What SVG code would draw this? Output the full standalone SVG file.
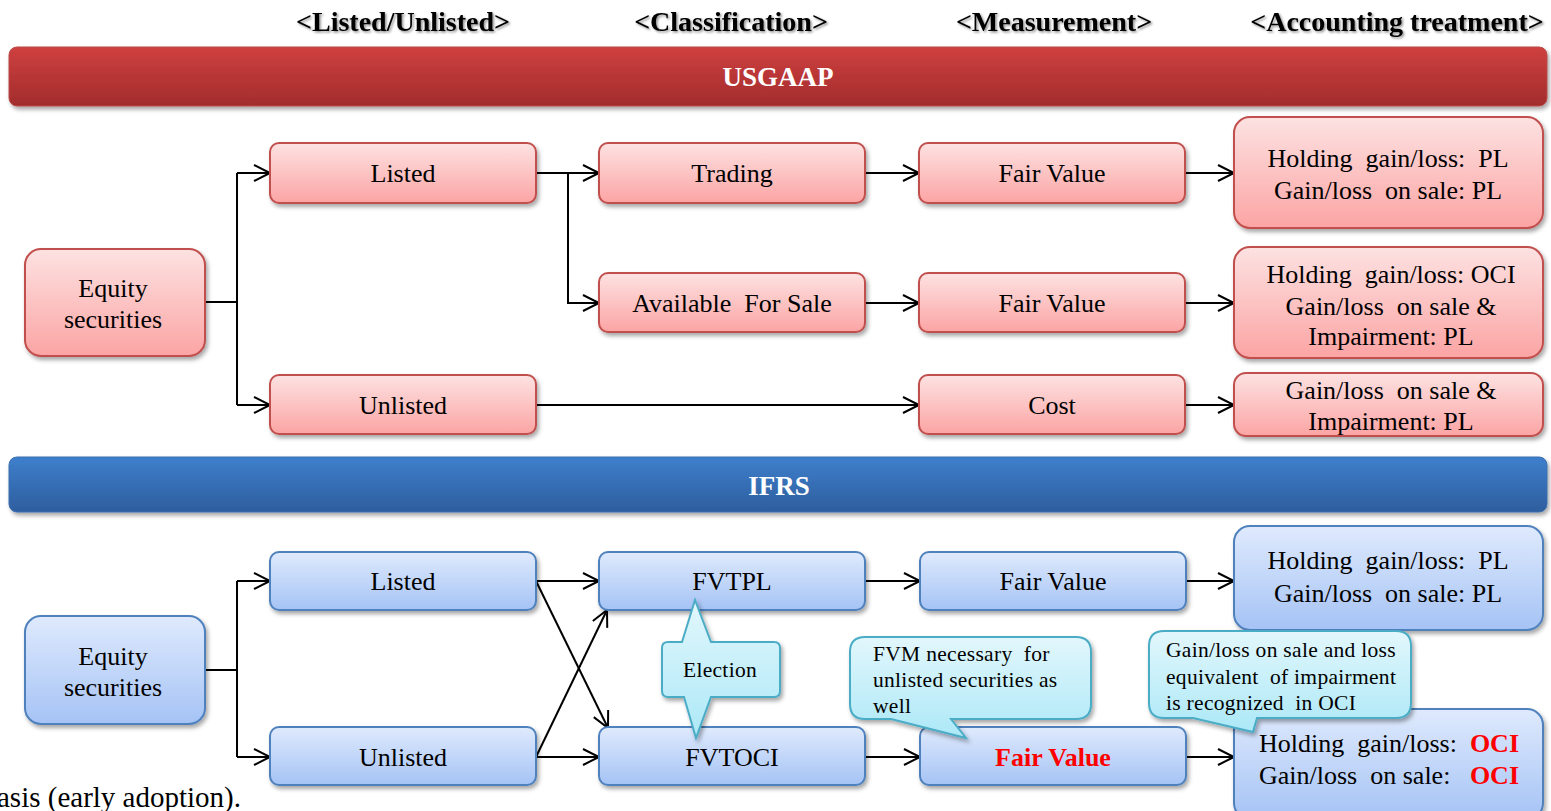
<svg xmlns="http://www.w3.org/2000/svg" width="1551" height="811" viewBox="0 0 1551 811">
<style>
text{font-family:"Liberation Serif","Times New Roman",serif;fill:#000}
.hdr{font-size:28px;font-weight:bold;text-anchor:middle}
.bar{font-size:27px;font-weight:bold;text-anchor:middle;fill:#fff}
.nt{font-size:26px;text-anchor:middle}
.ct{font-size:21.5px;letter-spacing:0.3px}
.red{fill:#ff0000;font-weight:bold}
.rn{fill:url(#gRed);stroke:#c0504d;stroke-width:2}
.bn{fill:url(#gBlue);stroke:#4f81bd;stroke-width:2}
.cl{fill:url(#gCyan);stroke:#4bacc6;stroke-width:2}
.ln{fill:none;stroke:#000;stroke-width:2;marker-end:url(#arr)}
.ln0{fill:none;stroke:#000;stroke-width:2}
</style>
<defs>
<linearGradient id="gRed" x1="0" y1="0" x2="0" y2="1"><stop offset="0" stop-color="#fde2e2"/><stop offset="1" stop-color="#fca4a4"/></linearGradient>
<linearGradient id="gBlue" x1="0" y1="0" x2="0" y2="1"><stop offset="0" stop-color="#dfeafd"/><stop offset="1" stop-color="#a5c3f5"/></linearGradient>
<linearGradient id="gCyan" x1="0" y1="0" x2="0" y2="1"><stop offset="0" stop-color="#e2f7fc"/><stop offset="1" stop-color="#ace8f7"/></linearGradient>
<linearGradient id="gRedBar" x1="0" y1="0" x2="0" y2="1"><stop offset="0" stop-color="#cf4040"/><stop offset="1" stop-color="#a22c2c"/></linearGradient>
<linearGradient id="gBlueBar" x1="0" y1="0" x2="0" y2="1"><stop offset="0" stop-color="#3e7fcc"/><stop offset="1" stop-color="#2e5e9e"/></linearGradient>
<filter id="sh" x="-10%" y="-20%" width="120%" height="150%"><feDropShadow dx="2" dy="3" stdDeviation="2" flood-color="#000" flood-opacity="0.35"/></filter>
<filter id="tsh" x="-10%" y="-30%" width="120%" height="160%"><feDropShadow dx="1.5" dy="1.5" stdDeviation="1.2" flood-color="#000" flood-opacity="0.45"/></filter>
<marker id="arr" markerUnits="userSpaceOnUse" markerWidth="20" markerHeight="20" refX="16" refY="8" orient="auto" overflow="visible"><path d="M0,0 L16,8 L0,16" fill="none" stroke="#000" stroke-width="2"/></marker>
</defs>

<g id="headers">
<text class="hdr" x="403" y="31" filter="url(#tsh)">&lt;Listed/Unlisted&gt;</text>
<text class="hdr" x="731" y="31" filter="url(#tsh)">&lt;Classification&gt;</text>
<text class="hdr" x="1054" y="31" filter="url(#tsh)">&lt;Measurement&gt;</text>
<text class="hdr" x="1397" y="31" filter="url(#tsh)">&lt;Accounting treatment&gt;</text>
</g>

<g id="bar-usgaap">
<rect x="9" y="47" width="1538" height="59" rx="8" fill="url(#gRedBar)" stroke="#b94a48" stroke-width="1" filter="url(#sh)"/>
<text class="bar" x="778" y="86">USGAAP</text>
</g>
<g id="bar-ifrs">
<rect x="9" y="457" width="1538" height="55" rx="8" fill="url(#gBlueBar)" stroke="#3a6fb0" stroke-width="1" filter="url(#sh)"/>
<text class="bar" x="779" y="495">IFRS</text>
</g>

<g id="connectors">
<path class="ln0" d="M205,302 H237 M237,173 V405"/>
<path class="ln" d="M237,173 H270"/>
<path class="ln" d="M237,405 H270"/>
<path class="ln" d="M536,173 H599"/>
<path class="ln" d="M568,173 V303 H599"/>
<path class="ln" d="M865,173 H919"/>
<path class="ln" d="M865,303 H919"/>
<path class="ln" d="M536,405 H919"/>
<path class="ln" d="M1185,173 H1234"/>
<path class="ln" d="M1185,303 H1234"/>
<path class="ln" d="M1185,405 H1234"/>

<path class="ln0" d="M205,670 H237 M237,581 V757"/>
<path class="ln" d="M237,581 H270"/>
<path class="ln" d="M237,757 H270"/>
<path class="ln" d="M536,581 H599"/>
<path class="ln" d="M536,757 H599"/>
<path class="ln" d="M536,581 L608,728"/>
<path class="ln" d="M536,757 L607,610"/>
<path class="ln" d="M865,581 H920"/>
<path class="ln" d="M865,757 H920"/>
<path class="ln" d="M1186,581 H1234"/>
<path class="ln" d="M1186,757 H1234"/>
</g>

<g id="us-equity"><rect class="rn" x="25" y="249" width="180" height="107" rx="16" filter="url(#sh)"/><text class="nt" x="113" y="297">Equity</text><text class="nt" x="113" y="328">securities</text></g>
<g id="us-listed"><rect class="rn" x="270" y="143" width="266" height="60" rx="9" filter="url(#sh)"/><text class="nt" x="403" y="182">Listed</text></g>
<g id="us-unlisted"><rect class="rn" x="270" y="375" width="266" height="59" rx="9" filter="url(#sh)"/><text class="nt" x="403" y="414">Unlisted</text></g>
<g id="us-trading"><rect class="rn" x="599" y="143" width="266" height="60" rx="9" filter="url(#sh)"/><text class="nt" x="732" y="182">Trading</text></g>
<g id="us-afs"><rect class="rn" x="599" y="273" width="266" height="59" rx="9" filter="url(#sh)"/><text class="nt" x="732" y="312" xml:space="preserve">Available  For Sale</text></g>
<g id="us-fv1"><rect class="rn" x="919" y="143" width="266" height="60" rx="9" filter="url(#sh)"/><text class="nt" x="1052" y="182">Fair Value</text></g>
<g id="us-fv2"><rect class="rn" x="919" y="273" width="266" height="59" rx="9" filter="url(#sh)"/><text class="nt" x="1052" y="312">Fair Value</text></g>
<g id="us-cost"><rect class="rn" x="919" y="375" width="266" height="59" rx="9" filter="url(#sh)"/><text class="nt" x="1052" y="414">Cost</text></g>
<g id="us-acc1"><rect class="rn" x="1234" y="117" width="309" height="111" rx="16" filter="url(#sh)"/><text class="nt" x="1388" y="167" xml:space="preserve">Holding  gain/loss:  PL</text><text class="nt" x="1388" y="199" xml:space="preserve">Gain/loss  on sale: PL</text></g>
<g id="us-acc2"><rect class="rn" x="1234" y="247" width="309" height="111" rx="16" filter="url(#sh)"/><text class="nt" x="1391" y="283" xml:space="preserve">Holding  gain/loss: OCI</text><text class="nt" x="1391" y="315" xml:space="preserve">Gain/loss  on sale &amp;</text><text class="nt" x="1391" y="345">Impairment: PL</text></g>
<g id="us-acc3"><rect class="rn" x="1234" y="373" width="309" height="63" rx="12" filter="url(#sh)"/><text class="nt" x="1391" y="399" xml:space="preserve">Gain/loss  on sale &amp;</text><text class="nt" x="1391" y="430">Impairment: PL</text></g>

<g id="if-equity"><rect class="bn" x="25" y="616" width="180" height="108" rx="16" filter="url(#sh)"/><text class="nt" x="113" y="665">Equity</text><text class="nt" x="113" y="696">securities</text></g>
<g id="if-listed"><rect class="bn" x="270" y="552" width="266" height="58" rx="9" filter="url(#sh)"/><text class="nt" x="403" y="590">Listed</text></g>
<g id="if-unlisted"><rect class="bn" x="270" y="727" width="266" height="58" rx="9" filter="url(#sh)"/><text class="nt" x="403" y="766">Unlisted</text></g>
<g id="if-fvtpl"><rect class="bn" x="599" y="552" width="266" height="58" rx="9" filter="url(#sh)"/><text class="nt" x="732" y="590">FVTPL</text></g>
<g id="if-fvtoci"><rect class="bn" x="599" y="727" width="266" height="58" rx="9" filter="url(#sh)"/><text class="nt" x="732" y="766">FVTOCI</text></g>
<g id="if-fv1"><rect class="bn" x="920" y="552" width="266" height="58" rx="9" filter="url(#sh)"/><text class="nt" x="1053" y="590">Fair Value</text></g>
<g id="if-fv2"><rect class="bn" x="920" y="727" width="266" height="58" rx="9" filter="url(#sh)"/><text class="nt red" x="1053" y="766">Fair Value</text></g>
<g id="if-acc1"><rect class="bn" x="1234" y="526" width="309" height="104" rx="16" filter="url(#sh)"/><text class="nt" x="1388" y="569" xml:space="preserve">Holding  gain/loss:  PL</text><text class="nt" x="1388" y="602" xml:space="preserve">Gain/loss  on sale: PL</text></g>
<g id="if-acc2"><rect class="bn" x="1234" y="709" width="309" height="110" rx="16" filter="url(#sh)"/><text class="nt" x="1389" y="752" xml:space="preserve">Holding  gain/loss:  <tspan class="red">OCI</tspan></text><text class="nt" x="1389" y="784" xml:space="preserve">Gain/loss  on sale:   <tspan class="red">OCI</tspan></text></g>

<g id="callout-election"><path class="cl" filter="url(#sh)" d="M668,642 H682 L695,600 L711,642 H774 Q780,642 780,648 V691 Q780,697 774,697 H711 L696,738 L684,697 H668 Q662,697 662,691 V648 Q662,642 668,642 Z"/><text class="ct" x="720" y="677" text-anchor="middle">Election</text></g>
<g id="callout-fvm"><path class="cl" filter="url(#sh)" d="M865,637 H1076 Q1091,637 1091,652 V704 Q1091,719 1076,719 H951 L966,738 L891,719 H865 Q850,719 850,704 V652 Q850,637 865,637 Z"/><text class="ct" x="873" y="661" xml:space="preserve">FVM necessary  for</text><text class="ct" x="873" y="687">unlisted securities as</text><text class="ct" x="873" y="713">well</text></g>
<g id="callout-oci"><path class="cl" filter="url(#sh)" d="M1164,631 H1396 Q1411,631 1411,646 V703 Q1411,718 1396,718 H1257 L1253,732 L1193,718 H1164 Q1149,718 1149,703 V646 Q1149,631 1164,631 Z"/><text class="ct" x="1166" y="657">Gain/loss on sale and loss</text><text class="ct" x="1166" y="684" xml:space="preserve">equivalent  of impairment</text><text class="ct" x="1166" y="710" xml:space="preserve">is recognized  in OCI</text></g>

<text x="-3" y="807" style="font-size:29px">asis (early adoption).</text>
</svg>
